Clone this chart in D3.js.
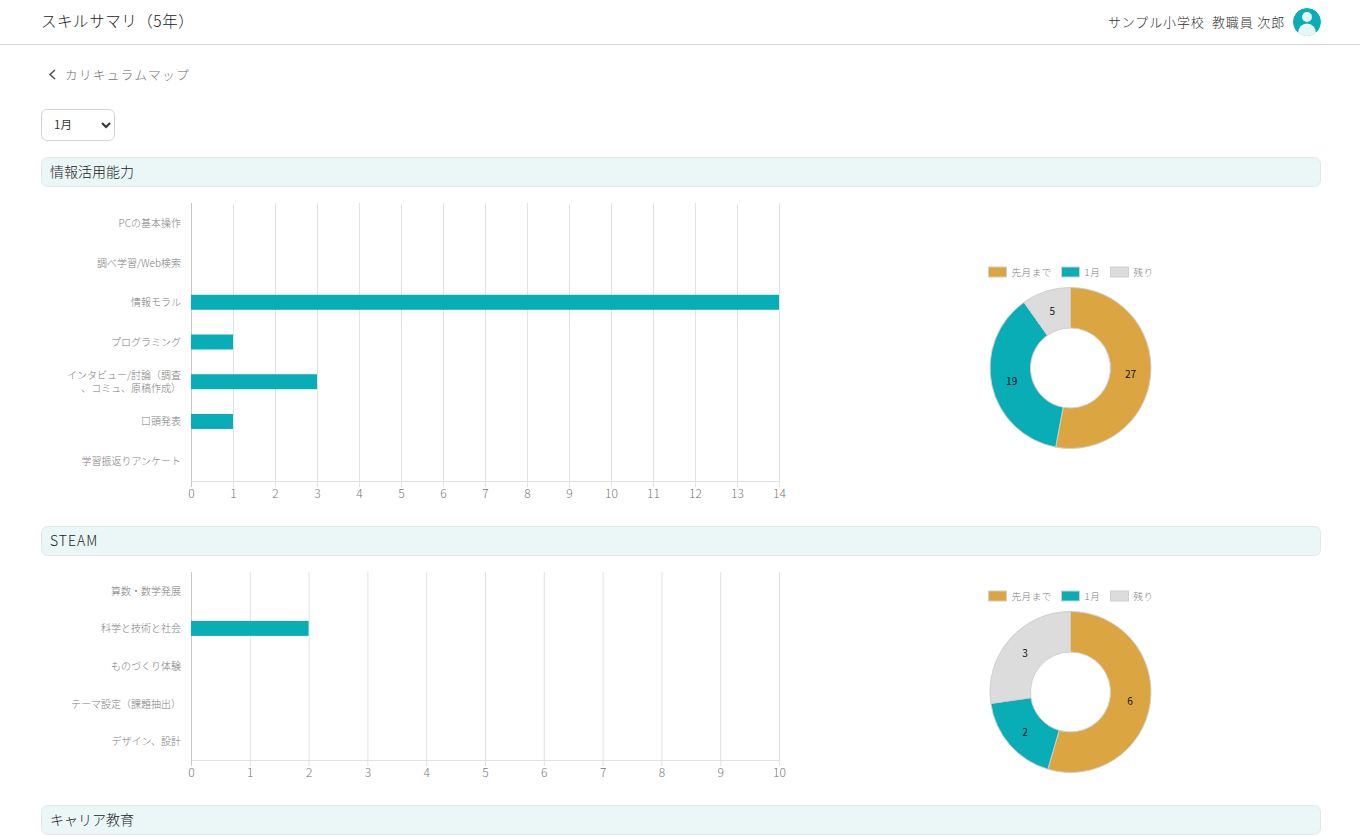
<!DOCTYPE html>
<html lang="ja">
<head>
<meta charset="utf-8">
<title>スキルサマリ</title>
<script src="https://cdn.jsdelivr.net/npm/d3@7"></script>
<style>
  html, body { margin: 0; padding: 0; background: #fff; overflow: hidden; }
  body { width: 1360px; height: 838px; position: relative; font-family: "Noto Sans CJK JP", "Noto Sans", sans-serif; font-weight: 300; }
  svg { position: absolute; left: 0; top: 0; }
  svg text { font-family: "Noto Sans CJK JP", "Noto Sans", sans-serif; white-space: pre; }
  select { position: absolute; left: 41px; top: 109px; width: 74px; height: 32px; padding: 0 0 3px 8px; background: #fff; border: 1px solid #d4d4d4; border-radius: 6px; font-family: inherit; font-size: 11.5px; color: #333; }
  .axis path { display: none; }
  .axis line { stroke: #e2e2e2; }
</style>
</head>
<body>
<select id="month"></select>
<svg id="page" width="1360" height="838"></svg>
<script>
const months = ['1月']

const skillCategories = ['PCの基本操作', '調べ学習/Web検索', '情報モラル', 'プログラミング', 'インタビュー/討論（調査\n、コミュ、原稿作成）', '口頭発表', '学習振返りアンケート']
const skillValues = [0, 0, 14, 1, 3, 1, 0]
const skillTicks = [0, 1, 2, 3, 4, 5, 6, 7, 8, 9, 10, 11, 12, 13, 14]
const skillDonut = [27, 19, 5]

const steamCategories = ['算数・数学発展', '科学と技術と社会', 'ものづくり体験', 'テーマ設定（課題抽出）', 'デザイン、設計']
const steamValues = [0, 2, 0, 0, 0]
const steamTicks = [0, 1, 2, 3, 4, 5, 6, 7, 8, 9, 10]
const steamDonut = [6, 2, 3]

const legendLabels = ['先月まで', '1月', '残り']
const donutColors = ['#dba642', '#09adb5', '#dcdcdc']
const legendOffsets = [0, 73, 122]

const svg = d3.select('#page')

d3.select('#month').selectAll('option').data(months).enter().append('option').text(d => d)

function addHeader() {
  svg.append('text').attr('x', 41).attr('y', 27).attr('font-size', 15.5).attr('letter-spacing', 0.55).attr('fill', '#222').text('スキルサマリ（5年）')
  svg.append('text').attr('x', 1285).attr('y', 27).attr('text-anchor', 'end').attr('font-size', 13).attr('letter-spacing', 0.85).attr('fill', '#333').text('サンプル小学校  教職員 次郎')
  svg.append('line').attr('x1', 0).attr('x2', 1360).attr('y1', 44.5).attr('y2', 44.5).attr('stroke', '#d6d6d6')

  // user icon
  const defs = svg.append('defs')
  defs.append('clipPath').attr('id', 'avatar').append('circle').attr('cx', 1307).attr('cy', 22).attr('r', 14)
  const icon = svg.append('g').attr('clip-path', 'url(#avatar)')
  icon.append('circle').attr('cx', 1307).attr('cy', 22).attr('r', 14).attr('fill', '#09adb5')
  icon.append('circle').attr('cx', 1307).attr('cy', 17).attr('r', 5).attr('fill', '#e9f6f6')
  icon.append('ellipse').attr('cx', 1307).attr('cy', 33).attr('rx', 9).attr('ry', 9.5).attr('fill', '#e9f6f6')

  svg.append('path').attr('d', 'M55 70 L50 74.5 L55 79').attr('fill', 'none').attr('stroke', '#555').attr('stroke-width', 1.6)
  svg.append('text').attr('x', 65).attr('y', 79.5).attr('font-size', 12.5).attr('letter-spacing', 1.45).attr('fill', '#6f6f6f').text('カリキュラムマップ')
}

function addSection(title, y, spacing) {
  svg.append('rect').attr('x', 41.5).attr('y', y + 0.5).attr('width', 1279).attr('height', 29).attr('rx', 6)
    .attr('fill', '#ebf6f6').attr('stroke', '#e0e8e8')
  svg.append('text').attr('x', 50).attr('y', y + 20).attr('font-size', 14).attr('letter-spacing', spacing).attr('fill', '#222').text(title)
}

function addBars(categories, values, ticks, top, bottom) {
  // axis draws its lines on the half pixel, so the range starts on the whole one
  const x = d3.scaleLinear().domain([ticks[0], ticks[ticks.length - 1]]).range([191, 779])
  const y = d3.scaleBand().domain(categories).range([top, bottom])

  const xAxis = svg.append('g').attr('class', 'axis').attr('transform', 'translate(0,' + bottom + ')')
    .call(d3.axisBottom(x).tickValues(ticks).tickFormat(d3.format('d')).tickSize(6).tickPadding(2))
  xAxis.selectAll('text').attr('font-size', 12).attr('fill', '#777')
  xAxis.selectAll('line').attr('y1', top - bottom).attr('y2', 6)

  svg.append('line').attr('x1', x.range()[0]).attr('x2', x.range()[1]).attr('y1', bottom + 0.5).attr('y2', bottom + 0.5).attr('stroke', '#e2e2e2')
  svg.append('line').attr('x1', 191.5).attr('x2', 191.5).attr('y1', top).attr('y2', bottom + 6).attr('stroke', '#c8c8c8')

  const yAxis = svg.append('g').attr('class', 'axis').attr('transform', 'translate(191,0)')
    .call(d3.axisLeft(y).tickSize(0).tickPadding(10))
  yAxis.selectAll('text').attr('font-size', 10).attr('fill', '#7d7d7d').attr('dy', null)
    .each(function(d) {
      const lines = d.split('\n')
      const el = d3.select(this).text(null)
      lines.forEach((line, i) => {
        el.append('tspan').attr('x', -10).attr('y', 4 + (i - (lines.length - 1) / 2) * 12.5).text(line)
      })
    })

  const barHeight = 15
  svg.selectAll(null).data(values).enter().append('rect')
    .attr('x', x(0))
    .attr('y', (d, i) => y(categories[i]) + y.bandwidth() / 2 - barHeight / 2)
    .attr('width', d => x(d) - x(0))
    .attr('height', barHeight)
    .attr('fill', donutColors[1])
}

function addDonut(values, cx, cy, legendY) {
  legendLabels.forEach((label, i) => {
    const lx = 988 + legendOffsets[i]
    svg.append('rect').attr('x', lx + 0.5).attr('y', legendY + 0.5).attr('width', 18).attr('height', 10)
      .attr('fill', donutColors[i]).attr('stroke', '#d0d0d0')
    svg.append('text').attr('x', lx + 23.5).attr('y', legendY + 9).attr('font-size', 9.5).attr('letter-spacing', 0.6).attr('fill', '#7d7d7d').text(label)
  })

  const pie = d3.pie().sort(null)
  const arc = d3.arc().innerRadius(40).outerRadius(80.5)
  const g = svg.append('g').attr('transform', 'translate(' + cx + ',' + cy + ')')
  const slices = g.selectAll(null).data(pie(values)).enter()
  slices.append('path').attr('d', arc).attr('fill', (d, i) => donutColors[i]).attr('stroke', '#cfcfcf').attr('stroke-width', 1)
  slices.append('text').attr('transform', d => 'translate(' + arc.centroid(d) + ')')
    .attr('text-anchor', 'middle').attr('dy', '0.45em').attr('font-size', 10).attr('font-weight', 400).attr('fill', '#111')
    .text(d => d.data)
}

addHeader()
addSection('情報活用能力', 157, 0)
addBars(skillCategories, skillValues, skillTicks, 203, 481)
addDonut(skillDonut, 1070.5, 368, 266.5)
addSection('STEAM', 526, 1)
addBars(steamCategories, steamValues, steamTicks, 572, 760)
addDonut(steamDonut, 1070.5, 692, 590.5)
addSection('キャリア教育', 805, 0)
</script>
</body>
</html>
